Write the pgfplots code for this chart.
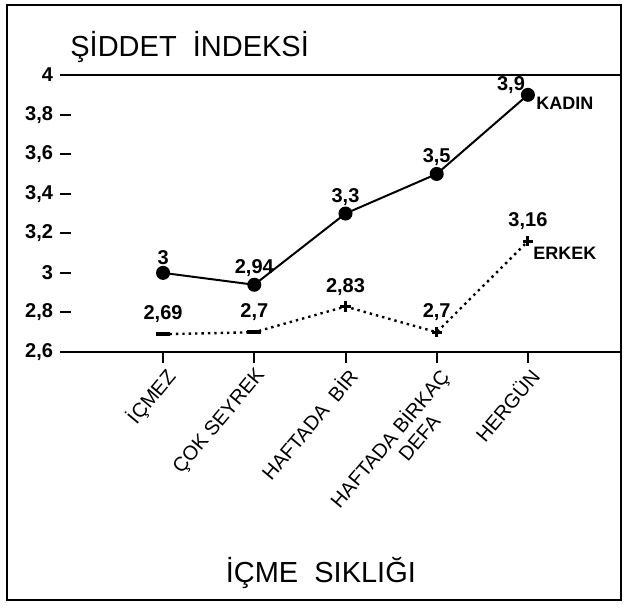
\documentclass[border=0pt]{standalone}
\usepackage{pgfplots}
\pgfplotsset{compat=1.18}
\usepackage{pgfplotstable}
\usepackage{fontspec}
\setmainfont{Liberation Sans}

% KADIN: index per drinking frequency
\pgfplotstableread{
x y
0 3
1 2.94
2 3.3
3 3.5
4 3.9
}\kadin
% ERKEK
\pgfplotstableread{
x y cls
0 2.69 a
1 2.7  a
2 2.83 b
3 2.7  b
4 3.16 b
}\erkek

\begin{document}
\begin{tikzpicture}
\begin{axis}[
  scale only axis,
  width=280.5pt, height=138.5pt,
  xmin=-1.13, xmax=5.02,
  ymin=2.6, ymax=4,
  clip=false,
  separate axis lines,
  every outer y axis line/.append style={draw=none},
  axis line style={line width=1pt},
  xtick={0,1,2,3,4},
  xticklabels={İÇMEZ, ÇOK SEYREK, HAFTADA\ \ BİR, {HAFTADA BİRKAÇ\\DEFA\hspace*{2em}}, HERGÜN},
  xtick pos=bottom,
  xtick align=outside,
  ytick={2.6,2.8,...,4.01},
  ytick pos=left,
  ytick align=inside,
  major tick length=5.5pt,
  every tick/.style={black, line width=1pt},
  /pgf/number format/use comma,
  /pgf/number format/assume math mode=true,
  yticklabel style={font=\bfseries\fontsize{10}{12}\selectfont},
  xticklabel style={rotate=50, anchor=north east, align=right,
    font=\fontsize{10}{11}\selectfont, xshift=0pt, inner sep=1pt},
]
\path (rel axis cs:-0.107,-0.931) rectangle (rel axis cs:1.009,1.271);
\draw[line width=1pt] (rel axis cs:-0.0945,-0.895) rectangle (rel axis cs:1,1.253);

\addplot[black, line width=1pt, mark=*, mark size=3pt,
  nodes near coords,
  every node near coord/.append style={font=\bfseries\fontsize{10}{12}\selectfont, inner sep=2pt, yshift=1.5pt},
  coordinate style/.condition={x==4}{anchor=south east, xshift=1pt, yshift=-3.5pt}]
  table[x=x, y=y] {\kadin};

\addplot[black, line width=1.2pt, dotted,
  nodes near coords,
  every node near coord/.append style={yshift=3pt, font=\bfseries\fontsize{10}{12}\selectfont, inner sep=2pt}]
  table[x=x, y=y] {\erkek};

\addplot[only marks, scatter, scatter src=explicit symbolic,
  scatter/classes={
    a={mark=-, mark size=3.5pt, draw=black, line width=2pt},
    b={mark=+, mark size=2.6pt, draw=black, line width=1.5pt}}]
  table[x=x, y=y, meta=cls] {\erkek};

\node[anchor=north west, font=\bfseries\fontsize{9}{11}\selectfont, inner sep=1pt, xshift=3pt, yshift=0pt] at (axis cs:4,3.9) {KADIN};
\node[anchor=north west, font=\bfseries\fontsize{9}{11}\selectfont, inner sep=1pt, xshift=1.5pt, yshift=-1.5pt] at (axis cs:4,3.16) {ERKEK};

\node[anchor=west, inner sep=0pt, font=\fontsize{14.5}{16}\selectfont] at (rel axis cs:0.0178,1.101) {ŞİDDET\ \ İNDEKSİ};
\node[font=\fontsize{14.5}{16}\selectfont] at (rel axis cs:0.465,-0.798) {İÇME\ \ SIKLIĞI};
\end{axis}
\end{tikzpicture}
\end{document}
